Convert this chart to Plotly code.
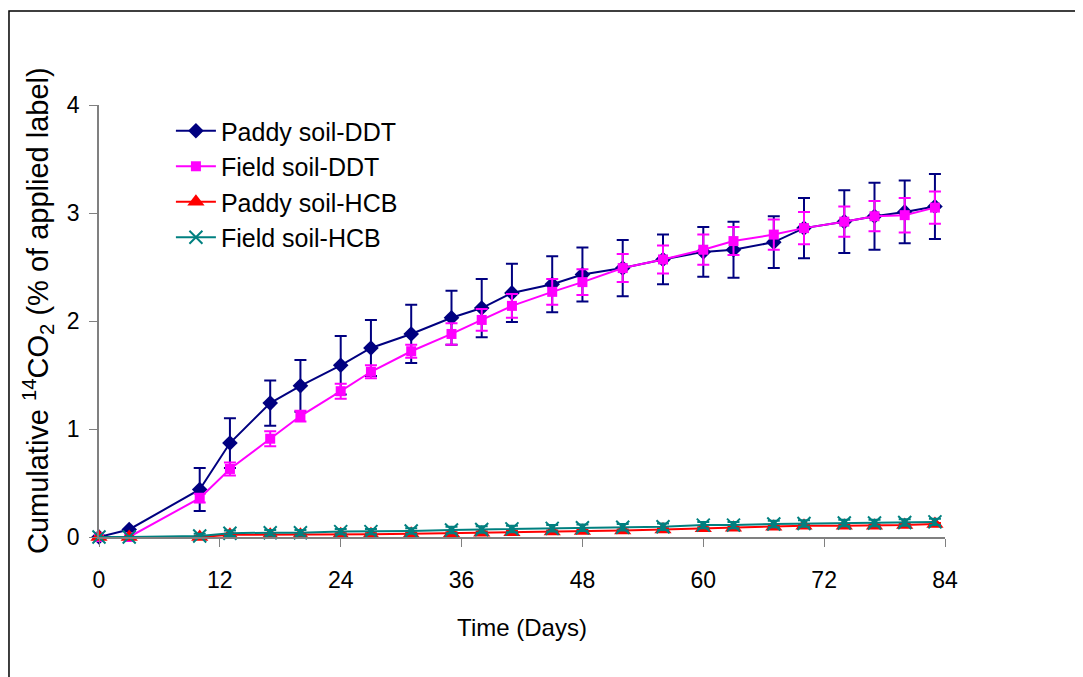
import plotly.graph_objects as go

# sampling days
days = [0, 3, 10, 13, 17, 20, 24, 27, 31, 35, 38, 41, 45, 48, 52, 56, 60, 63, 67, 70, 74, 77, 80, 83]

# cumulative 14CO2 (% of applied label)
paddy_ddt = [0, 0.07, 0.44, 0.87, 1.24, 1.40, 1.59, 1.75, 1.88, 2.03, 2.12, 2.26, 2.34, 2.43,
             2.49, 2.57, 2.64, 2.66, 2.73, 2.86, 2.92, 2.97, 3.01, 3.06]
paddy_ddt_err = [0, 0, 0.20, 0.23, 0.21, 0.24, 0.27, 0.26, 0.27, 0.25, 0.27, 0.27, 0.26, 0.25,
                 0.26, 0.23, 0.23, 0.26, 0.24, 0.28, 0.29, 0.31, 0.29, 0.30]
field_ddt = [0, 0, 0.36, 0.63, 0.91, 1.12, 1.35, 1.53, 1.72, 1.88, 2.01, 2.14, 2.27, 2.36,
             2.49, 2.57, 2.66, 2.74, 2.80, 2.86, 2.92, 2.97, 2.98, 3.05]
field_ddt_err = [0, 0, 0.04, 0.06, 0.07, 0.05, 0.07, 0.06, 0.06, 0.10, 0.10, 0.11, 0.12, 0.12,
                 0.13, 0.13, 0.14, 0.13, 0.14, 0.15, 0.14, 0.14, 0.16, 0.15]
paddy_hcb = [0, 0, 0.0, 0.02, 0.02, 0.02, 0.025, 0.025, 0.03, 0.035, 0.04, 0.045, 0.05, 0.055,
             0.06, 0.07, 0.08, 0.085, 0.095, 0.105, 0.105, 0.105, 0.11, 0.12]
paddy_hcb_err = [0, 0, 0.01, 0.01, 0.01, 0.01, 0.01, 0.01, 0.01, 0.01, 0.01, 0.01, 0.01, 0.01,
                 0.01, 0.01, 0.01, 0.01, 0.01, 0.01, 0.01, 0.01, 0.01, 0.01]
field_hcb = [0, 0, 0.01, 0.035, 0.04, 0.04, 0.05, 0.05, 0.055, 0.065, 0.07, 0.075, 0.08, 0.085,
             0.09, 0.095, 0.11, 0.11, 0.12, 0.125, 0.13, 0.13, 0.135, 0.14]
field_hcb_err = [0, 0, 0.02, 0.025, 0.025, 0.025, 0.025, 0.025, 0.025, 0.03, 0.03, 0.03, 0.03, 0.03,
                 0.03, 0.03, 0.03, 0.03, 0.03, 0.03, 0.03, 0.03, 0.03, 0.03]

x_ticks = [0, 12, 24, 36, 48, 60, 72, 84]
y_ticks = [0, 1, 2, 3, 4]

FONT = "Liberation Sans, Arial, sans-serif"

fig = go.Figure()


def add_series(name, y, err, color, symbol, size, msym_line=0):
    fig.add_trace(go.Scatter(
        x=days, y=y, name=name, mode="lines+markers",
        line=dict(color=color, width=2),
        marker=dict(symbol=symbol, size=size, color=color,
                    line=dict(color=color, width=msym_line)),
        error_y=dict(type="data", array=err, visible=True, color=color,
                     thickness=2, width=6),
        cliponaxis=False,
    ))


add_series("Paddy soil-DDT", paddy_ddt, paddy_ddt_err, "#000080", "diamond", 12)
add_series("Field soil-DDT", field_ddt, field_ddt_err, "#FF00FF", "square", 10)
add_series("Paddy soil-HCB", paddy_hcb, paddy_hcb_err, "#FF0000", "triangle-up", 15)
add_series("Field soil-HCB", field_hcb, field_hcb_err, "#008080", "x-thin", 13, 2)

# outer frame around the whole picture (left edge kept just inside the svg)
fig.add_shape(type="rect", xref="paper", yref="paper",
              x0=-0.1064, x1=1.2, y0=-0.36, y1=1.2176,
              line=dict(color="black", width=1.5), fillcolor="rgba(0,0,0,0)")

# y title as an annotation so it can sit a little above the plot centre
fig.add_annotation(text="Cumulative <sup>14</sup>CO<sub>2</sub> (% of applied label)",
                   xref="paper", yref="paper", x=-0.0721, y=0.523,
                   xanchor="center", yanchor="middle", textangle=-90,
                   showarrow=False, font=dict(size=29, family=FONT, color="black"))

fig.update_layout(
    width=1083, height=677,
    margin=dict(l=91, r=146, t=97, b=148),
    paper_bgcolor="white", plot_bgcolor="white",
    font=dict(family=FONT, color="black"),
    showlegend=True,
    legend=dict(x=0.085, y=0.993, xanchor="left", yanchor="top",
                font=dict(size=25, family=FONT), bgcolor="rgba(0,0,0,0)",
                tracegroupgap=0, itemwidth=40),
    xaxis=dict(range=[0, 84], tickvals=x_ticks, ticks="outside", ticklen=8,
               tickcolor="#808080", showline=True, linecolor="#808080", linewidth=1.5,
               showgrid=False, zeroline=False, tickfont=dict(size=23),
               ticklabelstandoff=14,
               title=dict(text="Time (Days)", font=dict(size=24), standoff=27)),
    yaxis=dict(range=[0, 4], tickvals=y_ticks, ticks="outside", ticklen=8,
               tickcolor="#808080", showline=True, linecolor="#808080", linewidth=1.5,
               showgrid=False, zeroline=False, tickfont=dict(size=23),
               ticklabelstandoff=5),
)

fig.write_html("out.html")
